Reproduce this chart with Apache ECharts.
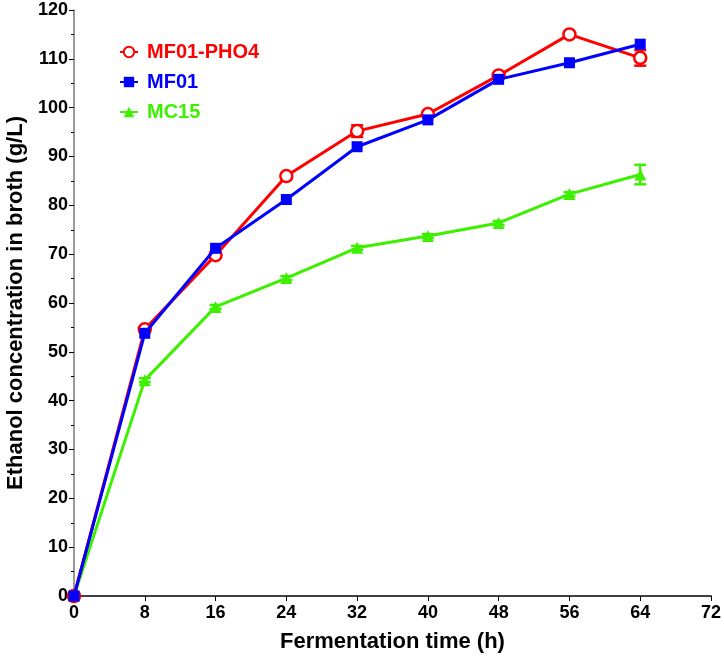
<!DOCTYPE html>
<html>
<head>
<meta charset="utf-8">
<script src="https://cdn.jsdelivr.net/npm/echarts@6/dist/echarts.min.js"></script>
<style>html,body{margin:0;padding:0;background:#fff}#c{width:724px;height:658px}</style>
</head>
<body>
<div id="c"></div>
<script>
var times = [0, 8, 16, 24, 32, 40, 48, 56, 64];
var seriesNames = ['MF01-PHO4', 'MF01', 'MC15'];
var pho4 = [0, 54.6, 69.8, 86.0, 95.2, 98.7, 106.6, 115.0, 110.2];
var pho4Err = [0, 0.5, 0.5, 0.5, 1.2, 0.6, 0.5, 0.5, 1.6];
var mf01 = [0, 53.8, 71.2, 81.2, 92.0, 97.5, 105.8, 109.2, 113.0];
var mf01Err = [0, 0.4, 0.4, 0.4, 0.4, 0.4, 0.4, 0.4, 0.5];
var mc15 = [0, 44.2, 59.2, 65.1, 71.3, 73.7, 76.4, 82.3, 86.3];
var mc15Err = [0, 0.4, 0.4, 0.4, 0.4, 0.4, 0.4, 0.4, 2.0];
var colors = ['#ff0000', '#0000ff', '#3cf000'];

function pairs(vals) { return times.map(function (t, i) { return [t, vals[i]]; }); }
function errData(vals, errs) { return times.map(function (t, i) { return [t, vals[i] - errs[i], vals[i] + errs[i]]; }); }
function errSeries(vals, errs, color) {
  return {
    type: 'custom', silent: true, z: 1,
    data: errData(vals, errs),
    renderItem: function (params, api) {
      var x = api.value(0);
      var lo = api.coord([x, api.value(1)]);
      var hi = api.coord([x, api.value(2)]);
      var hw = 6;
      var st = { stroke: color, lineWidth: 2.5 };
      return { type: 'group', children: [
        { type: 'line', shape: { x1: lo[0], y1: lo[1], x2: hi[0], y2: hi[1] }, style: st },
        { type: 'line', shape: { x1: lo[0] - hw, y1: lo[1], x2: lo[0] + hw, y2: lo[1] }, style: st },
        { type: 'line', shape: { x1: hi[0] - hw, y1: hi[1], x2: hi[0] + hw, y2: hi[1] }, style: st }
      ] };
    },
    encode: { x: 0, y: [1, 2] }
  };
}

var chart = echarts.init(document.getElementById('c'), null, { renderer: 'canvas' });
var font = 'Arial, "Liberation Sans", sans-serif';
chart.setOption({
  animation: false,
  backgroundColor: '#fff',
  grid: { left: 74, right: 13, top: 10, bottom: 62, containLabel: false, outerBoundsMode: 'none' },
  legend: {
    orient: 'vertical', left: 114, top: 37, itemGap: 10, itemWidth: 18, itemHeight: 13,
    textStyle: { fontFamily: font, fontWeight: 'bold', fontSize: 20, padding: [0, 0, 0, 4] },
    data: seriesNames.map(function (n, i) { return { name: n, textStyle: { color: colors[i] } }; })
  },
  xAxis: {
    type: 'value', min: 0, max: 72, interval: 8,
    name: 'Fermentation time (h)', nameLocation: 'middle', nameGap: 35,
    nameTextStyle: { fontFamily: font, fontWeight: 'bold', fontSize: 22, color: '#000' },
    axisLine: { lineStyle: { color: '#000', width: 1.5 } },
    axisTick: { show: true, inside: false, length: 5, lineStyle: { color: '#000' } },
    axisLabel: { fontFamily: font, fontWeight: 'bold', fontSize: 18, color: '#000', margin: 8 },
    splitLine: { show: false }
  },
  yAxis: {
    type: 'value', min: 0, max: 120, interval: 10,
    name: 'Ethanol concentration in broth (g/L)', nameLocation: 'middle', nameGap: 45,
    nameTextStyle: { fontFamily: font, fontWeight: 'bold', fontSize: 22, color: '#000' },
    axisLine: { show: true, lineStyle: { color: '#777', width: 1.5 } },
    axisTick: { show: true, inside: false, length: 5, lineStyle: { color: '#000' } },
    minorTick: { show: true, splitNumber: 2, length: 3, lineStyle: { color: '#000' } },
    axisLabel: { fontFamily: font, fontWeight: 'bold', fontSize: 18, color: '#000', margin: 6 },
    splitLine: { show: false }
  },
  series: [
    errSeries(pho4, pho4Err, colors[0]),
    errSeries(mc15, mc15Err, colors[2]),
    {
      name: seriesNames[2], type: 'line', data: pairs(mc15), z: 2,
      symbol: 'triangle', symbolSize: 12,
      lineStyle: { color: colors[2], width: 3 }, itemStyle: { color: colors[2] }
    },
    {
      name: seriesNames[0], type: 'line', data: pairs(pho4), z: 3,
      symbol: 'circle', symbolSize: 12,
      lineStyle: { color: colors[0], width: 3 },
      itemStyle: { color: '#fff', borderColor: colors[0], borderWidth: 2.5 }
    },
    {
      name: seriesNames[1], type: 'line', data: pairs(mf01), z: 4,
      symbol: 'rect', symbolSize: 11,
      lineStyle: { color: colors[1], width: 3 }, itemStyle: { color: colors[1] }
    }
  ]
});
</script>
</body>
</html>
